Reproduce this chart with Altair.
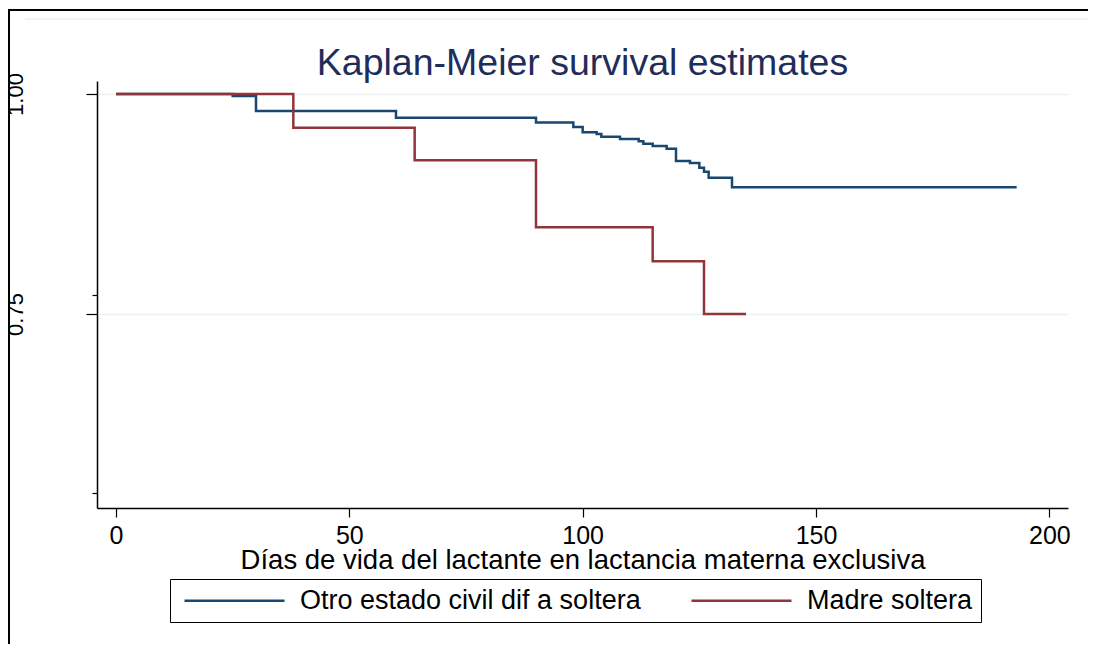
import altair as alt
import pandas as pd

# ---- data ----
GROUPS = ["Otro estado civil dif a soltera", "Madre soltera"]
COLORS = ["#1a476f", "#90353b"]

otro_t = [0, 25, 30, 60, 90, 98, 100, 103, 104, 108, 112, 113, 115, 118, 120,
          123, 125, 126, 127, 132, 193]
otro_s = [1.0, 0.9977, 0.9807, 0.9731, 0.9676, 0.9625, 0.9565, 0.9545, 0.9515,
          0.9489, 0.9463, 0.9435, 0.9409, 0.9378, 0.9239, 0.9216, 0.9163,
          0.9117, 0.9049, 0.8940, 0.8940]

madre_t = [0, 38, 64, 90, 115, 126, 135]
madre_s = [1.0, 0.9617, 0.9247, 0.8485, 0.810, 0.75, 0.75]

X_TICKS = [0, 50, 100, 150, 200]
Y_MAJOR = [0.75, 1.0]
Y_MINOR = [0.7716, 0.5466]

rows = []
for t, s in zip(otro_t, otro_s):
    rows.append({"t": t, "s": s, "g": GROUPS[0]})
for t, s in zip(madre_t, madre_s):
    rows.append({"t": t, "s": s, "g": GROUPS[1]})
df = pd.DataFrame(rows)

W, H = 971, 427
PAD = {"left": 89, "top": 73, "right": 20, "bottom": 136}
FONT = "Liberation Sans, Arial, sans-serif"

major_test = " || ".join(f"datum.value == {v}" for v in Y_MAJOR)
label_expr = "datum.value == 1 ? '1.00' : (datum.value == 0.75 ? '0.75' : '')"

lines = alt.Chart(df).mark_line(interpolate="step-after", strokeWidth=2.5).encode(
    x=alt.X("t:Q",
            scale=alt.Scale(domain=[-4.07, 204], nice=False, zero=False),
            axis=alt.Axis(values=X_TICKS, title="Días de vida del lactante en lactancia materna exclusiva",
                          grid=False, tickSize=9, tickColor="black", tickWidth=1.2,
                          domainColor="black", domainWidth=1.5,
                          labelFontSize=25, labelColor="black", labelPadding=6, labelFont=FONT,
                          titleFontSize=27.5, titleFontWeight="normal", titleColor="black",
                          titleFont=FONT, titlePadding=-2)),
    y=alt.Y("s:Q",
            scale=alt.Scale(domain=[0.5295, 1.0148], nice=False, zero=False),
            axis=alt.Axis(values=sorted(Y_MAJOR + Y_MINOR), title=None,
                          grid=True, gridColor="#eaf2f3", gridWidth=1.5,
                          gridOpacity={"condition": {"test": major_test, "value": 1}, "value": 0},
                          tickSize={"condition": {"test": major_test, "value": 11}, "value": 5},
                          tickColor="black", tickWidth=1.2,
                          domainColor="black", domainWidth=1.5,
                          labelExpr=label_expr, labelAngle=270,
                          labelFontSize=22, labelColor="black", labelFont=FONT,
                          labelPadding=59)),
    color=alt.Color("g:N",
                    scale=alt.Scale(domain=GROUPS, range=COLORS),
                    legend=alt.Legend(title=None, orient="none", direction="horizontal",
                                      legendX=73, legendY=498,
                                      symbolType="M-5,0H5", symbolSize=400,
                                      symbolStrokeWidth=2.5, symbolOffset=43,
                                      labelFontSize=27, labelFont=FONT, labelColor="black",
                                      labelLimit=600, labelOffset=52,
                                      columnPadding=44, padding=8,
                                      strokeColor="black", fillColor="white")),
)

# decorative outer frame of the graph region (Stata style)
frame_left = alt.Chart().mark_rule(color="black", strokeWidth=2).encode(
    x=alt.value(-88), y=alt.value(-71), y2=alt.value(H + PAD["bottom"]))
frame_top = alt.Chart().mark_rule(color="black", strokeWidth=2).encode(
    x=alt.value(-89), x2=alt.value(W + PAD["right"]), y=alt.value(-71))
inner_top = alt.Chart().mark_rule(color="#e8e8e8", strokeWidth=1).encode(
    x=alt.value(-72), x2=alt.value(W + PAD["right"]), y=alt.value(-62))

chart = alt.layer(frame_left, frame_top, inner_top, lines).properties(
    width=W, height=H,
    title=alt.TitleParams("Kaplan-Meier survival estimates", fontSize=37.5,
                          font=FONT, fontWeight="normal", color="#1f2d5c",
                          anchor="middle", offset=3, dy=76, frame="group"),
    autosize=alt.AutoSizeParams(type="none"),
    padding=PAD,
    background="white",
).configure_view(stroke=None)

chart.save("out.html", embed_options={"renderer": "svg", "actions": False})
